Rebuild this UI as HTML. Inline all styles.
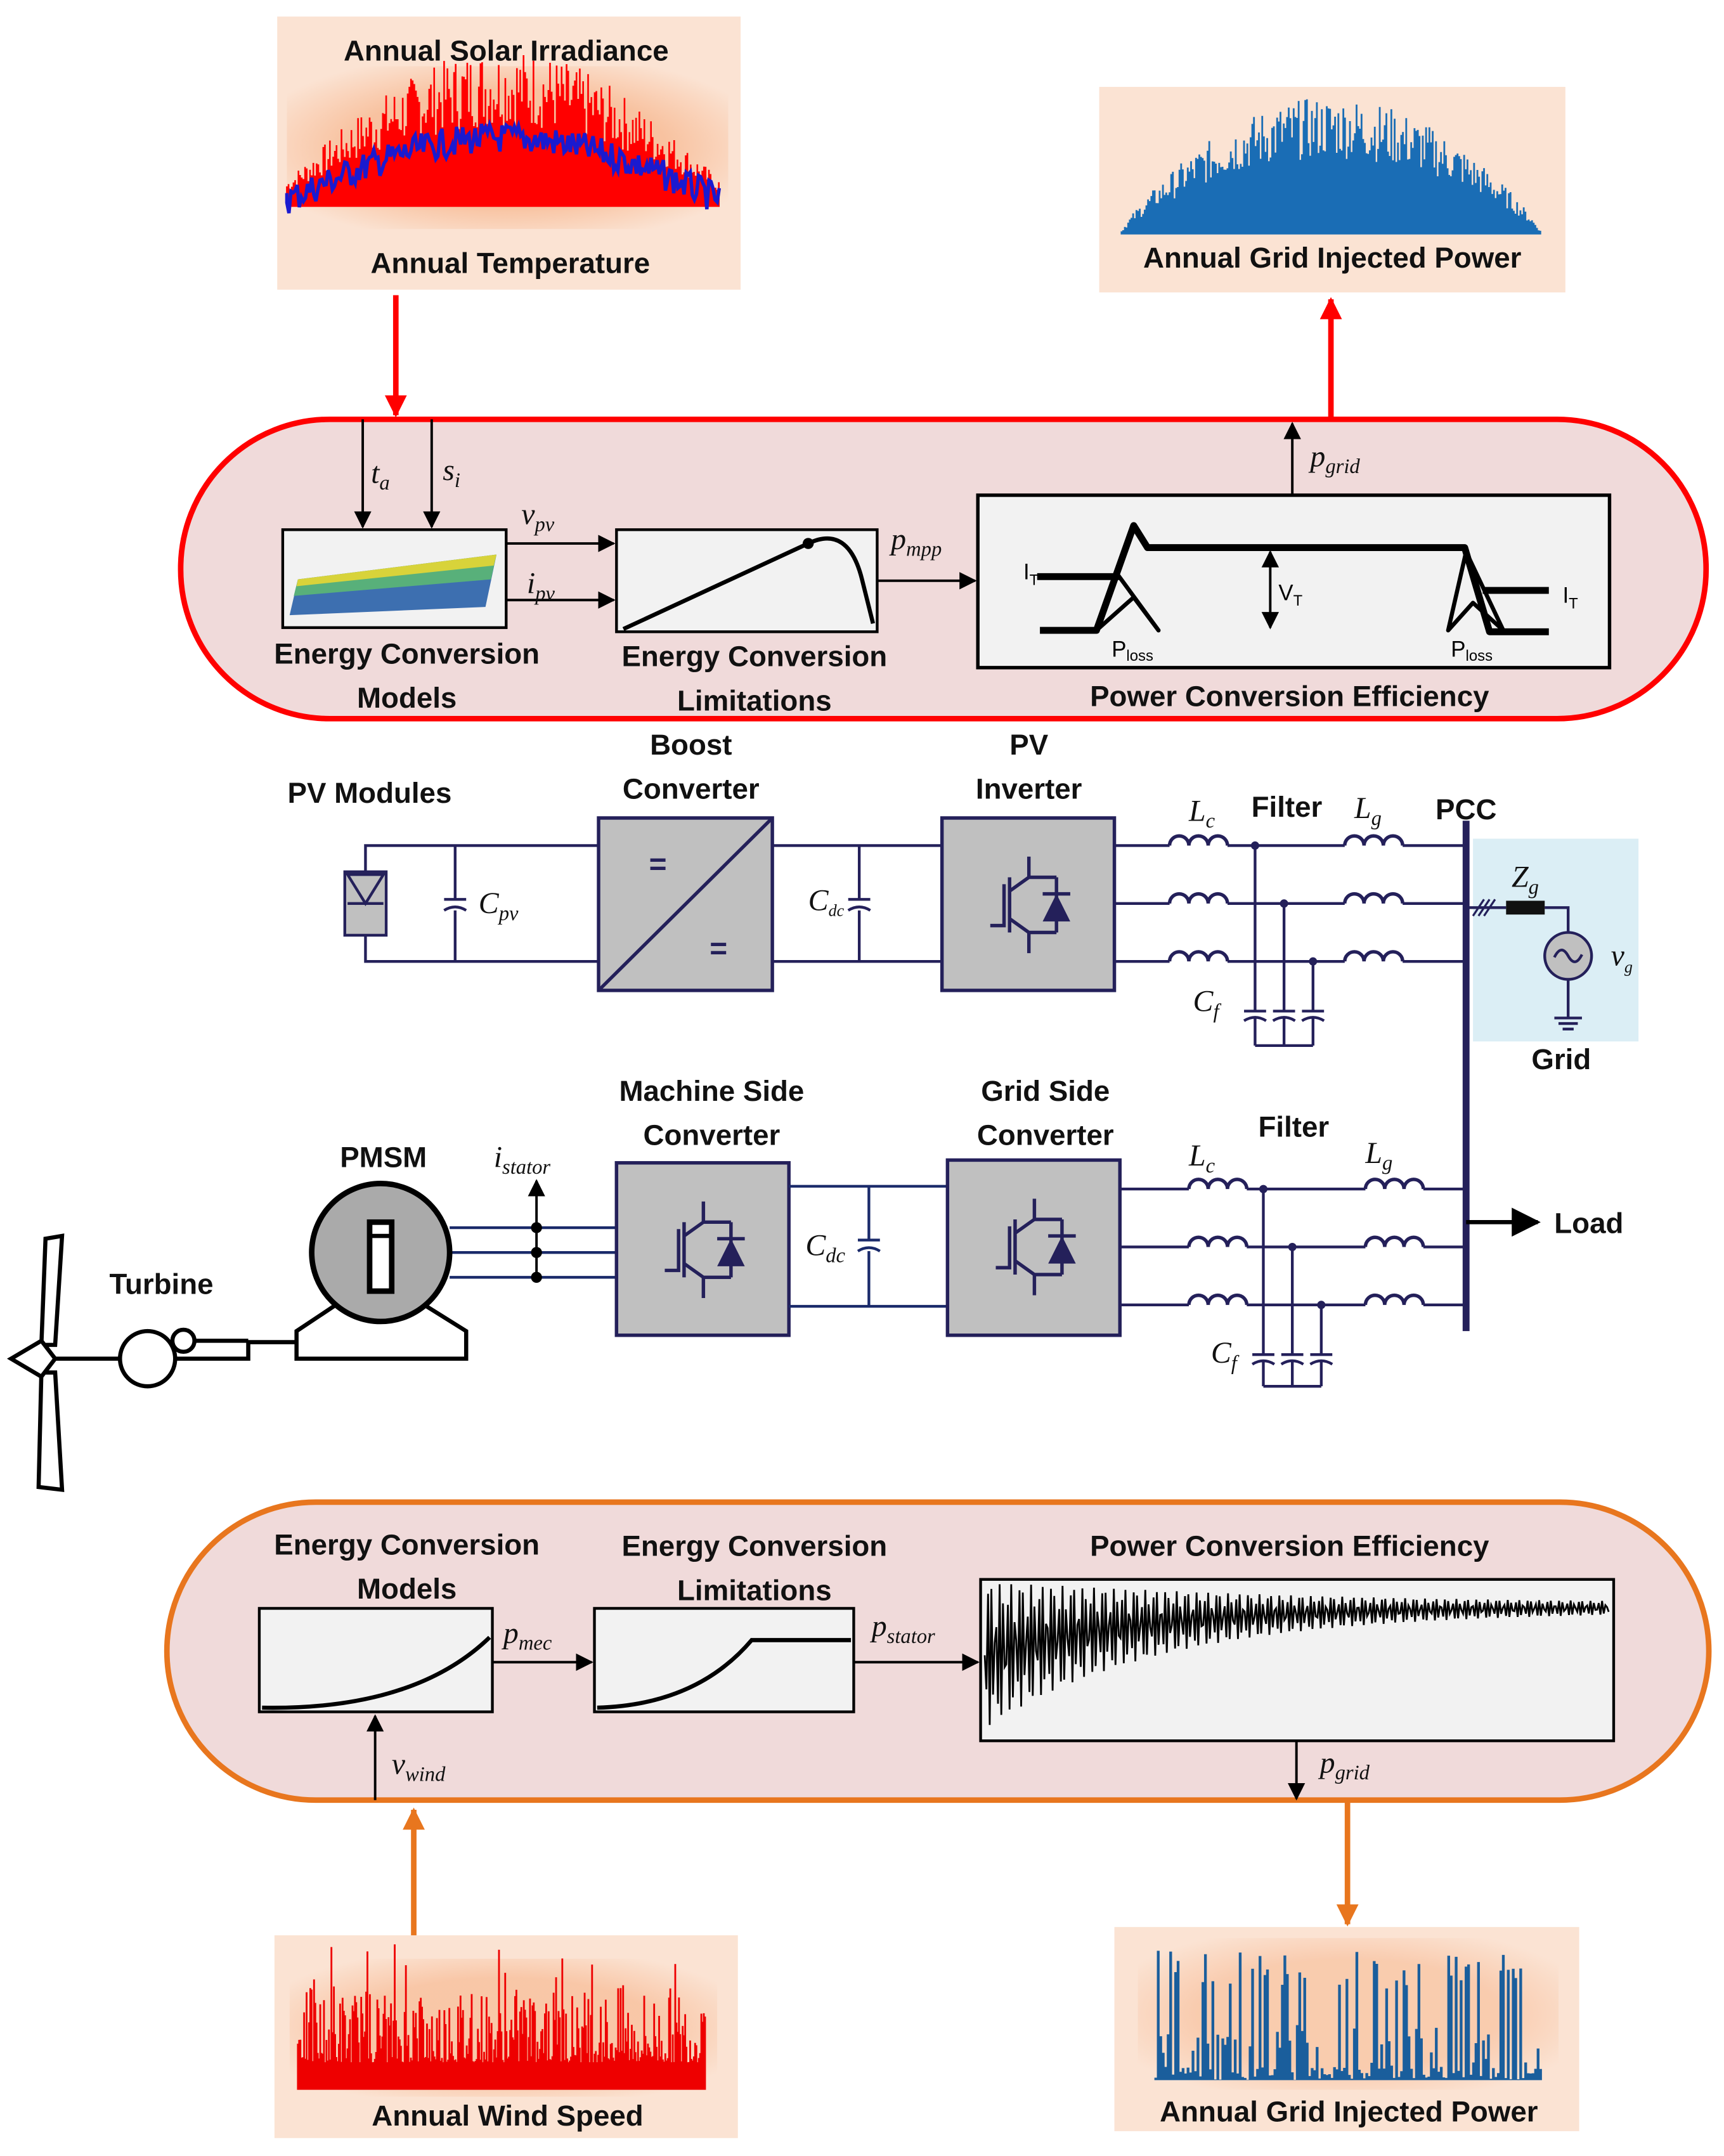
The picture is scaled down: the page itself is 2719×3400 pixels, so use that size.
<!DOCTYPE html>
<html><head><meta charset="utf-8"><style>
html,body{margin:0;padding:0;background:#fff}
svg{display:block}
.t{font-family:"Liberation Sans",sans-serif;font-weight:bold;font-size:21px;fill:#111;text-anchor:middle}
.m{font-family:"Liberation Serif",serif;font-style:italic;font-size:22px;fill:#111}
.s{font-size:15px}
.w{stroke:#24205a;stroke-width:2;fill:none}
.bx{fill:#c0c0c0;stroke:#24205a;stroke-width:2.5}
.a{stroke:#000;stroke-width:1.8;fill:none}
</style></head><body>
<svg width="2719" height="3400" viewBox="0 0 1250 1563" preserveAspectRatio="none" xmlns="http://www.w3.org/2000/svg">
<defs>
<marker id="ah" viewBox="0 0 10 10" refX="9" refY="5" markerWidth="7" markerHeight="7" orient="auto-start-reverse"><path d="M0,0L10,5L0,10z" fill="#000"/></marker>
<marker id="rh" viewBox="0 0 10 10" refX="9" refY="5" markerWidth="4" markerHeight="4" orient="auto"><path d="M0,0L10,5L0,10z" fill="#f00"/></marker>
<marker id="oh" viewBox="0 0 10 10" refX="9" refY="5" markerWidth="4" markerHeight="4" orient="auto"><path d="M0,0L10,5L0,10z" fill="#e8761e"/></marker>
<radialGradient id="pg" cx="50%" cy="50%" r="60%"><stop offset="0.6" stop-color="#f7b48a"/><stop offset="1" stop-color="#fbe3d3"/></radialGradient>
</defs>

<rect x="201" y="12" width="336" height="198" fill="#fbe3d3"/>
<rect x="208" y="48" width="320" height="118" fill="url(#pg)" opacity="0.7"/>
<g id="solar"></g>
<text class="t" x="367" y="44" font-size="24">Annual Solar Irradiance</text>
<text class="t" x="370" y="198" font-size="23">Annual Temperature</text>

<rect x="797" y="63" width="338" height="149" fill="#fbe3d3"/>
<g id="topblue"></g>
<text class="t" x="966" y="194">Annual Grid Injected Power</text>

<line x1="287" y1="214" x2="287" y2="301" stroke="#f00" stroke-width="4" marker-end="url(#rh)"/>
<line x1="965" y1="303" x2="965" y2="217" stroke="#f00" stroke-width="4" marker-end="url(#rh)"/>

<rect x="131" y="304" width="1106" height="217" rx="108" fill="#f0dada" stroke="#f00" stroke-width="4"/>
<line class="a" x1="263" y1="304" x2="263" y2="382" marker-end="url(#ah)"/>
<line class="a" x1="313" y1="304" x2="313" y2="382" marker-end="url(#ah)"/>
<text class="m" x="269" y="350">t<tspan class="s" dy="5">a</tspan></text>
<text class="m" x="321" y="348">s<tspan class="s" dy="5">i</tspan></text>
<rect x="205" y="384" width="162" height="71" fill="#f2f2f2" stroke="#000" stroke-width="2"/>
<polygon points="216,420 360,402 352,440 210,446" fill="#3d6fb0"/>
<polygon points="216,420 360,402 356,420 213,432" fill="#58b07a"/>
<polygon points="216,420 360,402 358,410 215,425" fill="#d8d33a"/>
<text class="t" x="295" y="481">Energy Conversion</text>
<text class="t" x="295" y="513">Models</text>
<line class="a" x1="367" y1="394" x2="445" y2="394" marker-end="url(#ah)"/>
<line class="a" x1="367" y1="435" x2="445" y2="435" marker-end="url(#ah)"/>
<text class="m" x="378" y="380">v<tspan class="s" dy="5">pv</tspan></text>
<text class="m" x="382" y="430">i<tspan class="s" dy="5">pv</tspan></text>
<rect x="447" y="384" width="189" height="74" fill="#f2f2f2" stroke="#000" stroke-width="2"/>
<path d="M452,456 L586,394 Q615,380 625,420 L633,452" fill="none" stroke="#000" stroke-width="3"/>
<circle cx="586" cy="394" r="4"/>
<text class="t" x="547" y="483">Energy Conversion</text>
<text class="t" x="547" y="515">Limitations</text>
<line class="a" x1="636" y1="421" x2="707" y2="421" marker-end="url(#ah)"/>
<text class="m" x="646" y="398">p<tspan class="s" dy="5">mpp</tspan></text>
<rect x="709" y="359" width="458" height="125" fill="#f2f2f2" stroke="#000" stroke-width="2.5"/>
<g fill="none" stroke="#000" stroke-width="5" stroke-linejoin="round">
<path d="M754,457 L795,457 L822,381 L832,397 L1062,397 L1080,458 L1123,458"/>
<path d="M752,418 L812,418"/>
<path d="M795,457 L810,416 L840,457 L822,433 Z" stroke-width="3"/>
<path d="M1050,457 L1063,400 L1090,457 L1068,437 Z" stroke-width="3"/>
<path d="M1075,428 L1123,428"/>
</g>
<line class="a" x1="921" y1="425" x2="921" y2="400" marker-end="url(#ah)"/>
<line class="a" x1="921" y1="425" x2="921" y2="455" marker-end="url(#ah)"/>
<text x="742" y="420" font-family="Liberation Sans" font-size="16">I<tspan font-size="11" dy="4">T</tspan></text>
<text x="1133" y="437" font-family="Liberation Sans" font-size="16">I<tspan font-size="11" dy="4">T</tspan></text>
<text x="927" y="435" font-family="Liberation Sans" font-size="16">V<tspan font-size="11" dy="4">T</tspan></text>
<text x="806" y="476" font-family="Liberation Sans" font-size="16">P<tspan font-size="11" dy="3">loss</tspan></text>
<text x="1052" y="476" font-family="Liberation Sans" font-size="16">P<tspan font-size="11" dy="3">loss</tspan></text>
<line class="a" x1="937" y1="359" x2="937" y2="307" marker-end="url(#ah)"/>
<text class="m" x="950" y="338">p<tspan class="s" dy="5">grid</tspan></text>
<text class="t" x="935" y="512">Power Conversion Efficiency</text>

<text class="t" x="268" y="582">PV Modules</text>
<text class="t" x="501" y="547">Boost</text>
<text class="t" x="501" y="579">Converter</text>
<text class="t" x="746" y="547">PV</text>
<text class="t" x="746" y="579">Inverter</text>
<path class="w" d="M265,632 V613 H434 M265,678 V697 H434 M330,613 V652 M330,660 V697 M322,652 H338 M322,660 Q330,655 338,660"/>
<rect x="250" y="632" width="30" height="46" fill="#c0c0c0" stroke="#24205a" stroke-width="2"/>
<path d="M252,634 L265,655 L278,634 Z M252,655 H278" class="w" stroke-width="1.5"/>
<text class="m" x="347" y="662">C<tspan class="s" dy="5">pv</tspan></text>
<rect class="bx" x="434" y="593" width="126" height="125"/>
<line x1="434" y1="718" x2="560" y2="593" stroke="#24205a" stroke-width="2.5"/>
<text x="477" y="634" font-family="Liberation Sans" font-size="22" font-weight="bold" fill="#24205a" text-anchor="middle">=</text>
<text x="521" y="695" font-family="Liberation Sans" font-size="22" font-weight="bold" fill="#24205a" text-anchor="middle">=</text>
<path class="w" d="M560,613 H683 M560,697 H683 M623,613 V652 M623,660 V697 M615,652 H631 M615,660 Q623,655 631,660"/>
<text class="m" x="586" y="660" font-size="18">C<tspan font-size="12" dy="4">dc</tspan></text>
<rect class="bx" x="683" y="593" width="125" height="125"/>
<g id="igbt1"></g>
<text class="t" x="933" y="592">Filter</text>
<text class="m" x="862" y="595">L<tspan class="s" dy="5">c</tspan></text>
<text class="m" x="982" y="593">L<tspan class="s" dy="5">g</tspan></text>
<text class="t" x="1063" y="594">PCC</text>
<g id="f1"></g>
<text class="m" x="865" y="733">C<tspan class="s" dy="5">f</tspan></text>
<rect x="1068" y="608" width="120" height="147" fill="#dbeef5"/>
<line x1="1063" y1="595" x2="1063" y2="965" stroke="#24205a" stroke-width="5"/>
<path class="w" d="M1063,658 H1092 M1120,658 H1137 V676 M1137,710 V738 M1127,738 H1147 M1130,742 H1144 M1133,746 H1141"/>
<path d="M1068,664 L1076,652 M1072,664 L1080,652 M1076,664 L1084,652" stroke="#24205a" stroke-width="1.5"/>
<rect x="1092" y="653" width="28" height="10" fill="#111"/>
<circle cx="1137" cy="693" r="17" fill="#c0c0c0" stroke="#24205a" stroke-width="2"/>
<path d="M1127,694 Q1132,684 1137,693 T1147,692" class="w" stroke-width="1.5"/>
<text class="m" x="1096" y="643">Z<tspan class="s" dy="5">g</tspan></text>
<text class="m" x="1168" y="700">v<tspan font-size="12" dy="5">g</tspan></text>
<text class="t" x="1132" y="775">Grid</text>

<text class="t" x="516" y="798">Machine Side</text>
<text class="t" x="516" y="830">Converter</text>
<text class="t" x="758" y="798">Grid Side</text>
<text class="t" x="758" y="830">Converter</text>
<text class="t" x="278" y="846">PMSM</text>
<text class="t" x="938" y="824">Filter</text>
<text class="t" x="117" y="938">Turbine</text>
<text class="m" x="358" y="846">i<tspan class="s" dy="5">stator</tspan></text>
<path d="M326,890 H447 M326,908 H447 M326,926 H447" stroke="#1a2a6a" stroke-width="2"/>
<line class="a" x1="389" y1="926" x2="389" y2="856" marker-end="url(#ah)"/>
<circle cx="389" cy="890" r="4"/><circle cx="389" cy="908" r="4"/><circle cx="389" cy="926" r="4"/>
<path d="M215,985 V965 L245,945 H306 L338,965 V985 Z" fill="#fff" stroke="#000" stroke-width="3"/>
<circle cx="276" cy="908" r="50" fill="#aaa" stroke="#000" stroke-width="4"/>
<rect x="268" y="886" width="16" height="50" fill="#fff" stroke="#000" stroke-width="4"/>
<line x1="268" y1="896" x2="284" y2="896" stroke="#000" stroke-width="3"/>
<rect class="bx" x="447" y="843" width="125" height="125"/>
<path d="M572,860 H687 M572,947 H687 M630,860 V899 M630,907 V947 M622,899 H638 M622,907 Q630,902 638,907" stroke="#1a2a6a" stroke-width="2" fill="none"/>
<text class="m" x="584" y="910">C<tspan class="s" dy="5">dc</tspan></text>
<rect class="bx" x="687" y="841" width="125" height="127"/>
<text class="m" x="862" y="845">L<tspan class="s" dy="5">c</tspan></text>
<text class="m" x="990" y="843">L<tspan class="s" dy="5">g</tspan></text>
<g id="f2"></g>
<text class="m" x="878" y="988">C<tspan class="s" dy="5">f</tspan></text>
<line x1="1063" y1="886" x2="1115" y2="886" stroke="#000" stroke-width="3" marker-end="url(#ah)"/>
<text class="t" x="1152" y="894">Load</text>
<path d="M33,898 L45,896 L40,975 L30,975 Z" fill="#fff" stroke="#000" stroke-width="3"/>
<path d="M30,995 L40,995 L45,1080 L28,1078 Z" fill="#fff" stroke="#000" stroke-width="3"/>
<path d="M8,985 L30,972 L40,985 L30,998 Z" fill="#fff" stroke="#000" stroke-width="3"/>
<line x1="40" y1="985" x2="87" y2="985" stroke="#000" stroke-width="3"/>
<circle cx="107" cy="985" r="20" fill="#fff" stroke="#000" stroke-width="3"/>
<circle cx="133" cy="972" r="8" fill="#fff" stroke="#000" stroke-width="3"/>
<path d="M127,985 H180 V973 H215" stroke="#000" stroke-width="3" fill="none"/>
<line x1="141" y1="972" x2="180" y2="972" stroke="#000" stroke-width="3"/>

<rect x="121" y="1089" width="1118" height="216" rx="108" fill="#f0dada" stroke="#e8761e" stroke-width="4"/>
<text class="t" x="295" y="1127">Energy Conversion</text>
<text class="t" x="295" y="1159">Models</text>
<rect x="188" y="1166" width="169" height="75" fill="#f2f2f2" stroke="#000" stroke-width="2"/>
<path d="M190,1238 Q300,1240 355,1187" fill="none" stroke="#000" stroke-width="3"/>
<line class="a" x1="357" y1="1205" x2="429" y2="1205" marker-end="url(#ah)"/>
<text class="m" x="365" y="1191">p<tspan class="s" dy="5">mec</tspan></text>
<text class="t" x="547" y="1128">Energy Conversion</text>
<text class="t" x="547" y="1160">Limitations</text>
<rect x="431" y="1166" width="188" height="75" fill="#f2f2f2" stroke="#000" stroke-width="2"/>
<path d="M433,1238 Q505,1236 545,1189 H617" fill="none" stroke="#000" stroke-width="3"/>
<line class="a" x1="619" y1="1205" x2="709" y2="1205" marker-end="url(#ah)"/>
<text class="m" x="632" y="1186">p<tspan class="s" dy="5">stator</tspan></text>
<text class="t" x="935" y="1128">Power Conversion Efficiency</text>
<rect x="711" y="1145" width="459" height="117" fill="#f2f2f2" stroke="#000" stroke-width="2"/>
<g id="osc"></g>
<line class="a" x1="272" y1="1305" x2="272" y2="1244" marker-end="url(#ah)"/>
<text class="m" x="284" y="1286">v<tspan class="s" dy="5">wind</tspan></text>
<line class="a" x1="940" y1="1262" x2="940" y2="1304" marker-end="url(#ah)"/>
<text class="m" x="957" y="1285">p<tspan class="s" dy="5">grid</tspan></text>
<line x1="300" y1="1403" x2="300" y2="1312" stroke="#e8761e" stroke-width="4" marker-end="url(#oh)"/>
<line x1="977" y1="1306" x2="977" y2="1395" stroke="#e8761e" stroke-width="4" marker-end="url(#oh)"/>

<rect x="199" y="1403" width="336" height="147" fill="#fbe3d3"/>
<rect x="210" y="1420" width="310" height="100" fill="url(#pg)" opacity="0.6"/>
<g id="wind"></g>
<text class="t" x="368" y="1541">Annual Wind Speed</text>
<rect x="808" y="1397" width="337" height="148" fill="#fbe3d3"/>
<rect x="825" y="1405" width="305" height="110" fill="url(#pg)" opacity="0.5"/>
<g id="botblue"></g>
<text class="t" x="978" y="1538">Annual Grid Injected Power</text>
</svg>
<script>
var NS="http://www.w3.org/2000/svg";
var seed=7;function r(){seed=(seed*9301+49297)%233280;return seed/233280;}
function el(g,tag,at){var e=document.createElementNS(NS,tag);for(var k in at)e.setAttribute(k,at[k]);document.getElementById(g).appendChild(e);return e;}
function spikes(g,x0,x1,base,hfn,col,w,step){var d="";for(var x=x0;x<=x1;x+=step){var h=hfn((x-x0)/(x1-x0));d+="M"+x.toFixed(1)+","+base+"V"+(base-h).toFixed(1);}el(g,"path",{d:d,stroke:col,"stroke-width":w,fill:"none"});}
spikes("solar",208,522,150,function(t){var env=Math.sin(Math.PI*t);return (20+95*env)*(0.5+0.5*r());},"#f00",1.2,1.2);
var d="M208,140";for(var x=208;x<=522;x+=1.5){var t=(x-208)/314;var y=145-45*Math.sin(Math.PI*t)+ (r()-0.5)*22;d+="L"+x.toFixed(1)+","+y.toFixed(1);}el("solar","path",{d:d,stroke:"#1a1ad0","stroke-width":2.5,fill:"none"});
spikes("topblue",812,1118,170,function(t){var env=Math.pow(Math.sin(Math.PI*t),0.8);return 100*env*(0.55+0.45*r());},"#1a6db5",1.3,1.2);
spikes("wind",216,512,1515,function(t){var v=r();return 20+55*v*v+(r()<0.1?35:0);},"#e00",1.3,0.9);
spikes("botblue",838,1118,1508,function(t){var v=r();return v<0.28?95*(0.7+0.3*r()):(v<0.55?40*r():10*r());},"#1a5e9c",2,1.8);
var o="M714,1200";for(var x=714;x<=1167;x+=1.2){var t=(x-714)/453;var mid=1200-35*(1-Math.exp(-t*4));var amp=50*Math.exp(-t*3.2)+3;var y=mid+amp*Math.sin(x*2.2);o+="L"+x.toFixed(1)+","+y.toFixed(1);}el("osc","path",{d:o,stroke:"#000","stroke-width":1.3,fill:"none"});
function igbt(g,cx,cy){var c="#24205a";el(g,"path",{d:"M"+(cx-30)+","+(cy+15)+"H"+(cx-20)+"V"+(cy-15)+" M"+(cx-16)+","+(cy-20)+"V"+(cy+20)+" M"+(cx-16)+","+(cy-10)+"L"+(cx-2)+","+(cy-20)+"H"+(cx+18)+" M"+(cx-16)+","+(cy+10)+"L"+(cx-2)+","+(cy+20)+"H"+(cx+18)+" M"+(cx+18)+","+(cy-20)+"V"+(cy+20)+" M"+(cx-2)+","+(cy-20)+"V"+(cy-35)+" M"+(cx-2)+","+(cy+20)+"V"+(cy+35)+" M"+(cx+8)+","+(cy-8)+"H"+(cx+28),stroke:c,"stroke-width":2.5,fill:"none"});el(g,"path",{d:"M"+(cx+8)+","+(cy+12)+"L"+(cx+18)+","+(cy-8)+"L"+(cx+28)+","+(cy+12)+"Z",fill:c});}
igbt("igbt1",748,656);
var g2=document.createElementNS(NS,"g");g2.id="igbt2";document.querySelector("svg").appendChild(g2);igbt("igbt2",512,906);
var g3=document.createElementNS(NS,"g");g3.id="igbt3";document.querySelector("svg").appendChild(g3);igbt("igbt3",752,904);
function filt(g,x0,ys,lc,lg,js,cy,bot){var c="#24205a";ys.forEach(function(y,i){el(g,"path",{d:"M"+x0+","+y+"H"+lc+" M"+(lc+42)+","+y+"H"+lg+" M"+(lg+42)+","+y+"H1062",stroke:c,"stroke-width":2,fill:"none"});[lc,lg].forEach(function(x){var p="M"+x+","+y;for(var k=0;k<3;k++){p+=" a7,7 0 1 1 14,0";}el(g,"path",{d:p,stroke:c,"stroke-width":2.5,fill:"none"});});var jx=js[i];el(g,"circle",{cx:jx,cy:y,r:3,fill:c});el(g,"path",{d:"M"+jx+","+y+"V"+cy+" M"+(jx-8)+","+cy+"H"+(jx+8)+" M"+(jx-8)+","+(cy+7)+"Q"+jx+","+(cy+2)+" "+(jx+8)+","+(cy+7)+" M"+jx+","+(cy+5)+"V"+bot,stroke:c,"stroke-width":2,fill:"none"});});el(g,"path",{d:"M"+js[0]+","+bot+"H"+js[2],stroke:c,"stroke-width":2});}
filt("f1",808,[613,655,697],848,975,[910,931,952],733,758);
filt("f2",812,[862,904,946],862,990,[916,937,958],982,1005);
</script>
</body></html>
